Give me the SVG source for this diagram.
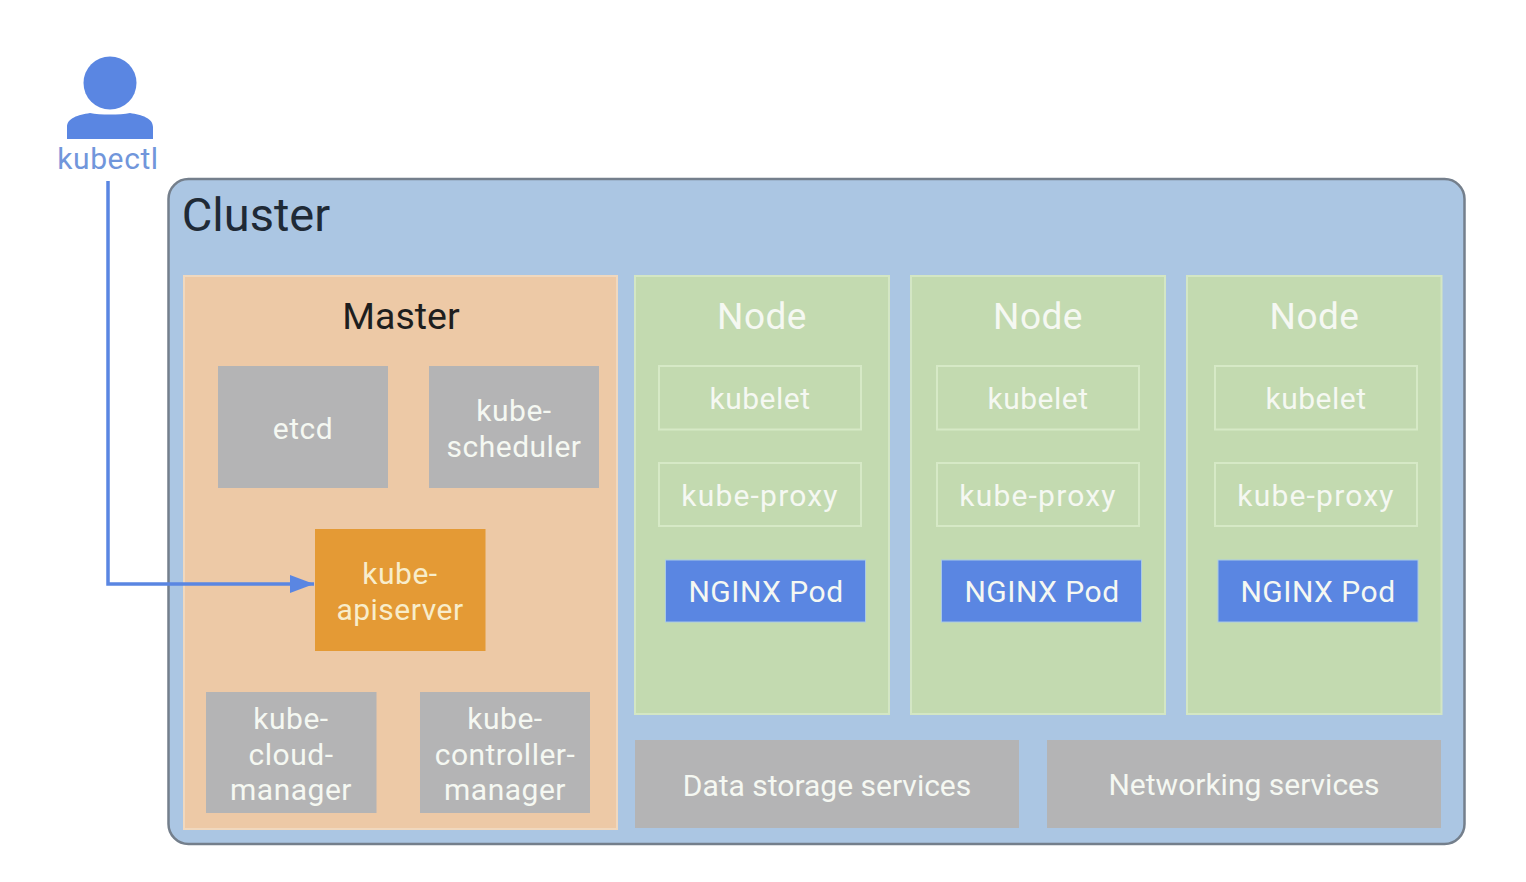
<svg xmlns="http://www.w3.org/2000/svg" width="1526" height="882" viewBox="0 0 1526 882">
<style>
text{font-family:"Roboto","Noto Sans","Liberation Sans",sans-serif;text-anchor:middle}
.w{fill:#f5f8f2;font-size:30px;letter-spacing:.5px}
.g{fill:#b4b4b5}
.n{fill:#c3dab0;stroke:#d3e6c4;stroke-width:2}
.o{fill:none;stroke:#d6e9c6;stroke-width:2}
.p{fill:#5a86e2;stroke:#a9c9e6;stroke-width:1}
.h{font-size:36px}
.y{fill:#f8edcb}
</style>
<defs><marker id="a" markerUnits="userSpaceOnUse" markerWidth="26" markerHeight="20" refX="24" refY="10" orient="auto"><path d="M0 1L24 10L0 19Z" fill="#5a86e2"/></marker></defs>
<rect width="1526" height="882" fill="#fff"/>
<g id="user">
<circle cx="110" cy="83" r="26.500" fill="#5a86e2"/>
<path d="M67 139V127C67 118 78 115 90 113C100 115 120 115 130 113C142 115 153 118 153 127V139Z" fill="#5a86e2"/>
<text x="108" y="169" font-size="30" letter-spacing=".6" fill="#7196db">kubectl</text>
</g>
<g id="cluster">
<rect x="168.500" y="179" width="1296" height="665" rx="20" fill="#abc6e3" stroke="#747f8c" stroke-width="2.500"/>
<text x="256" y="231" font-size="47" fill="#1f2a36">Cluster</text>
</g>
<g id="master">
<rect x="184" y="276" width="433" height="553" fill="#edc9a6" stroke="#f0d8be" stroke-width="2"/>
<text x="401" y="329" font-size="37.500" fill="#1e1e1e">Master</text>
</g>
<g id="etcd"><rect class="g" x="218" y="366" width="170" height="122"/><text class="w" x="303" y="439">etcd</text></g>
<g id="kube-scheduler"><rect class="g" x="429" y="366" width="170" height="122"/><text class="w" x="514" y="421">kube-</text><text class="w" x="514" y="457">scheduler</text></g>
<g id="kube-apiserver"><rect x="315" y="529" width="170.500" height="122" fill="#e49a35"/><text class="w y" x="400" y="584" style="fill:#f8edcb">kube-</text><text class="w y" x="400" y="620" style="fill:#f8edcb">apiserver</text></g>
<g id="kube-cloud-manager"><rect class="g" x="206" y="692" width="170.500" height="121"/><text class="w" x="291" y="729">kube-</text><text class="w" x="291" y="765">cloud-</text><text class="w" x="291" y="800">manager</text></g>
<g id="kube-controller-manager"><rect class="g" x="420" y="692" width="170" height="121"/><text class="w" x="505" y="729">kube-</text><text class="w" x="505" y="765" letter-spacing="1">controller-</text><text class="w" x="505" y="800">manager</text></g>
<g id="node1"><rect class="n" x="635" y="276" width="254" height="438"/><text class="w" x="762" y="329" style="font-size:37px">Node</text>
<rect class="o" x="659" y="366" width="202" height="63.500"/><text class="w" x="760" y="409">kubelet</text>
<rect class="o" x="659" y="463" width="202" height="63"/><text class="w" x="760" y="506" style="letter-spacing:1.200px">kube-proxy</text>
<rect class="p" x="665.500" y="560" width="200" height="62"/><text class="w" x="766" y="602">NGINX Pod</text></g>
<g id="node2"><rect class="n" x="911" y="276" width="254" height="438"/><text class="w" x="1038" y="329" style="font-size:37px">Node</text>
<rect class="o" x="937" y="366" width="202" height="63.500"/><text class="w" x="1038" y="409">kubelet</text>
<rect class="o" x="937" y="463" width="202" height="63"/><text class="w" x="1038" y="506" style="letter-spacing:1.200px">kube-proxy</text>
<rect class="p" x="941.500" y="560" width="200" height="62"/><text class="w" x="1042" y="602">NGINX Pod</text></g>
<g id="node3"><rect class="n" x="1187" y="276" width="254.500" height="438"/><text class="w" x="1314.500" y="329" style="font-size:37px">Node</text>
<rect class="o" x="1215" y="366" width="202" height="63.500"/><text class="w" x="1316" y="409">kubelet</text>
<rect class="o" x="1215" y="463" width="202" height="63"/><text class="w" x="1316" y="506" style="letter-spacing:1.200px">kube-proxy</text>
<rect class="p" x="1218" y="560" width="200" height="62"/><text class="w" x="1318" y="602">NGINX Pod</text></g>
<g id="data-storage"><rect class="g" x="635" y="740" width="384" height="88"/><text class="w" x="827" y="796" style="letter-spacing:0">Data storage services</text></g>
<g id="networking"><rect class="g" x="1047" y="740" width="394" height="88"/><text class="w" x="1244" y="795" style="letter-spacing:0">Networking services</text></g>
<g id="connectors"><path d="M108 181V584H314" fill="none" stroke="#5a86e2" stroke-width="3.500" marker-end="url(#a)"/></g>
</svg>
